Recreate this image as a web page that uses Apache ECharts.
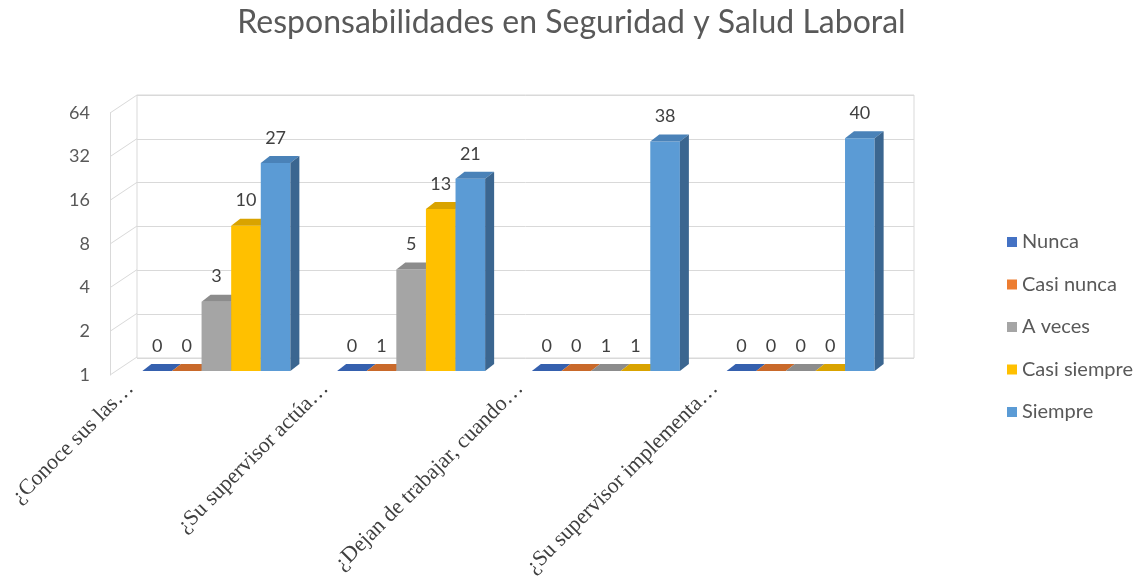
<!DOCTYPE html>
<html>
<head>
<meta charset="utf-8">
<script src="https://cdn.jsdelivr.net/npm/echarts@6/dist/echarts.min.js"></script>
<style>
  html, body { margin: 0; padding: 0; background: #fff; }
  #chart { width: 1143px; height: 580px; }
</style>
</head>
<body>
<div id="chart"></div>
<script>
const categories = [
  '¿Conoce sus las…',
  '¿Su supervisor actúa…',
  '¿Dejan de trabajar, cuando…',
  '¿Su supervisor implementa…'
];
const seriesNames = ['Nunca', 'Casi nunca', 'A veces', 'Casi siempre', 'Siempre'];
const nunca = [0, 0, 0, 0];
const casiNunca = [0, 1, 0, 0];
const aVeces = [3, 5, 1, 0];
const casiSiempre = [10, 13, 1, 0];
const siempre = [27, 21, 38, 40];
const yTicks = [1, 2, 4, 8, 16, 32, 64];

const values = [nunca, casiNunca, aVeces, casiSiempre, siempre];
const faceColors = [
  ['#4472C4', '#3560AE', '#2F5597'],
  ['#ED7D31', '#C9692A', '#AE5A21'],
  ['#A5A5A5', '#8C8C8C', '#7A7A7A'],
  ['#FFC000', '#D9A300', '#BF9000'],
  ['#5B9BD5', '#4A82B8', '#3B6690']
];
const DX = 9, DY = 7;
const gridColor = '#d9d9d9';
const font = 'Lato, "Open Sans", sans-serif';

const chart = echarts.init(document.getElementById('chart'), null, { renderer: 'canvas' });

function barRenderer(s) {
  return function (params, api) {
    const cat = api.value(0);
    const raw = api.value(2);
    const base = api.coord([cat, 1]);
    const top = api.coord([cat, api.value(1)]);
    const bw = api.size([1, 0])[0] * 0.152;
    const x0 = base[0] + (s - 2.5) * bw;
    const x1 = x0 + bw;
    const yt = top[1], yb = base[1];
    const c = faceColors[s];
    const children = [];
    if (yb - yt > 0.5) {
      children.push({ type: 'rect', shape: { x: x0, y: yt, width: bw, height: yb - yt }, style: { fill: c[0] } });
    }
    children.push({
      type: 'polygon',
      shape: { points: [[x0, yt], [x1, yt], [x1 + DX, yt - DY], [x0 + DX, yt - DY]] },
      style: { fill: c[1] }
    });
    children.push({
      type: 'polygon',
      shape: { points: [[x1, yt], [x1 + DX, yt - DY], [x1 + DX, yb - DY], [x1, yb]] },
      style: { fill: c[2] }
    });
    children.push({
      type: 'text',
      x: x0 + bw / 2,
      y: yt - DY - 9,
      style: { text: String(raw), align: 'center', verticalAlign: 'bottom', fontSize: 18, fontFamily: font, fill: '#404040' }
    });
    return { type: 'group', children: children };
  };
}

const barSeries = seriesNames.map(function (name, s) {
  return {
    name: name,
    type: 'custom',
    xAxisIndex: 0,
    yAxisIndex: 0,
    itemStyle: { color: faceColors[s][0] },
    data: values[s].map(function (v, i) { return [i, Math.max(v, 1), v]; }),
    encode: { x: 0, y: 1 },
    renderItem: barRenderer(s),
    z: 5
  };
});

const option = {
  backgroundColor: '#fff',
  animation: false,
  title: {
    text: 'Responsabilidades en Seguridad y Salud Laboral',
    left: 'center',
    top: 2,
    textStyle: { fontFamily: font, fontSize: 32, fontWeight: 'normal', color: '#595959' }
  },
  legend: {
    orient: 'vertical',
    left: 1002,
    top: 227,
    itemWidth: 10,
    itemHeight: 10,
    itemGap: 22.5,
    icon: 'rect',
    data: seriesNames,
    textStyle: { fontFamily: font, fontSize: 20, color: '#595959' }
  },
  grid: [
    // bars
    { left: 119, right: 245, top: 108.5, bottom: 209 },
    // back wall
    { left: 137, right: 229, top: 95, bottom: 222, show: true, borderColor: gridColor, borderWidth: 1 },
    // front axis / left wall
    { left: 110, width: 27, top: 113, bottom: 205 },
    // category labels
    { left: 33, width: 779, top: 113, bottom: 204 }
  ],
  xAxis: [
    { gridIndex: 0, type: 'category', data: categories, show: false },
    { gridIndex: 1, type: 'category', data: categories, axisLine: { show: false }, axisTick: { show: false }, axisLabel: { show: false } },
    { gridIndex: 2, type: 'value', min: 0, max: 1, show: false },
    {
      gridIndex: 3, type: 'category', data: categories,
      axisLine: { show: false }, axisTick: { show: false },
      axisLabel: { rotate: 45, margin: 10, fontFamily: '"Liberation Serif", "DejaVu Serif", serif', fontSize: 22, color: '#404040' }
    }
  ],
  yAxis: [
    { gridIndex: 0, type: 'log', logBase: 2, min: 1, max: 64, show: false },
    {
      gridIndex: 1, type: 'log', logBase: 2, min: 1, max: 64, interval: 1,
      axisLine: { show: false }, axisTick: { show: false }, axisLabel: { show: false },
      splitLine: { show: true, lineStyle: { color: gridColor, width: 1 } }
    },
    {
      gridIndex: 2, type: 'log', logBase: 2, min: 1, max: 64, interval: 1,
      axisLine: { show: true, lineStyle: { color: gridColor } },
      axisTick: { show: false },
      splitLine: { show: false },
      axisLabel: { margin: 20, fontFamily: font, fontSize: 18, color: '#595959' }
    },
    { gridIndex: 3, type: 'value', show: false }
  ],
  series: [
    {
      name: 'leftWall',
      type: 'custom',
      xAxisIndex: 2,
      yAxisIndex: 2,
      silent: true,
      data: yTicks.map(function (t) { return [0, t]; }),
      renderItem: function (params, api) {
        const p = api.coord([0, api.value(1)]);
        return {
          type: 'line',
          shape: { x1: p[0], y1: p[1], x2: p[0] + 27, y2: p[1] - 18 },
          style: { stroke: gridColor, lineWidth: 1 }
        };
      },
      z: 1
    }
  ].concat(barSeries)
};

chart.setOption(option);
</script>
</body>
</html>
